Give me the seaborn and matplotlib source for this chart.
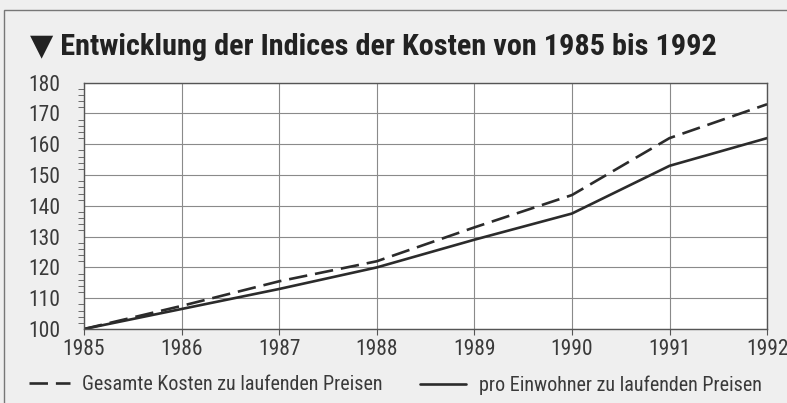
import pandas as pd
import seaborn as sns
import numpy as np
import matplotlib.pyplot as plt
from matplotlib import font_manager
from matplotlib.lines import Line2D
from matplotlib.patches import Rectangle
from matplotlib.ticker import MultipleLocator

years = [1985, 1986, 1987, 1988, 1989, 1990, 1991, 1992]
gesamt = [100, 107.5, 115.5, 122, 133, 143.5, 162, 173]
pro_kopf = [100, 106.5, 113, 120, 129, 137.5, 153, 162]
labels = ["Gesamte Kosten zu laufenden Preisen", "pro Einwohner zu laufenden Preisen"]
title = "\u25bc Entwicklung der Indices der Kosten von 1985 bis 1992"

df = pd.DataFrame({"Jahr": years, labels[0]: gesamt, labels[1]: pro_kopf})
df_long = pd.melt(df, id_vars=["Jahr"], value_vars=labels, var_name="Reihe", value_name="Index")

# narrow font if there is one, the original uses a condensed grotesque
names = {f.name for f in font_manager.fontManager.ttflist}
stretch = "normal"
font = "Liberation Sans"
for cand in ["Roboto Condensed", "Liberation Sans Narrow", "Open Sans Condensed"]:
    if cand in names:
        font = cand
        break
else:
    if any(f.name == "DejaVu Sans" and f.stretch == "condensed" for f in font_manager.fontManager.ttflist):
        font, stretch = "DejaVu Sans", "condensed"

sns.set_style("white")
plt.rcParams['font.family'] = [font, 'DejaVu Sans']
plt.rcParams['font.stretch'] = stretch

ink = "#2b2b2b"
fig = plt.figure(figsize=(7.87, 4.03), dpi=100, facecolor="#efefef")
ax = fig.add_axes([0.1067, 0.1836, 0.868, 0.6112])
ax.set_facecolor("white")

sns.lineplot(data=df_long, x="Jahr", y="Index", hue="Reihe", style="Reihe",
             palette=[ink, ink], dashes={labels[0]: (7, 3), labels[1]: ""},
             linewidth=1.9, legend=False, ax=ax)

ax.set_xlim(1985, 1992)
ax.set_ylim(100, 180)
ax.set_xticks(years)
ax.set_yticks(np.arange(100, 181, 10))
ax.yaxis.set_minor_locator(MultipleLocator(2))
ax.grid(True, which="major", color="#8a8a8a", linewidth=0.8)
ax.set_xlabel("")
ax.set_ylabel("")
for s in ax.spines.values():
    s.set_color("#555555")
    s.set_linewidth(1.0)
ax.tick_params(axis="y", which="major", length=10, width=0.8, color="#555555",
               labelsize=15.5, labelcolor="#3a3a3a", pad=7)
ax.tick_params(axis="y", which="minor", length=4.5, width=0.6, color="#555555", left=True)
ax.tick_params(axis="x", which="major", length=4.5, width=0.8, color="#555555",
               labelsize=15.5, labelcolor="#3a3a3a", pad=3, bottom=True)

t = fig.text(0.038, 0.883, title, fontsize=18, fontweight="bold", color="#222222",
             va="center", ha="left", family=[font, 'DejaVu Sans'])

# shrink title to the width it has in the original
r = fig.canvas.get_renderer()
w = t.get_window_extent(r).width
t.set_fontsize(18 * 685 / w)

# legend text size from its width (about 303 px)
tmp = fig.text(0, 0, labels[0], fontsize=16)
lsize = 16 * 303 / tmp.get_window_extent(r).width
tmp.remove()
em = lsize * 100 / 72

handles = [Line2D([0], [0], color=ink, lw=1.9, dashes=(7, 3)),
           Line2D([0], [0], color=ink, lw=1.9)]
for h, lab, x0, hl, gap in zip(handles, labels, [29, 420], [41, 46], [12, 13]):
    fig.legend([h], [lab], loc="center left", bbox_to_anchor=(x0 / 787, 1 - 385 / 403),
               frameon=False, fontsize=lsize, handlelength=hl / em, handletextpad=gap / em,
               borderpad=0, borderaxespad=0, labelcolor="#3a3a3a")

fig.patches.append(Rectangle((0.005, -0.1), 1.2, 1.075, transform=fig.transFigure,
                             fill=False, edgecolor="#777777", linewidth=1.0))

fig.savefig("out.png", dpi=100, facecolor=fig.get_facecolor())
